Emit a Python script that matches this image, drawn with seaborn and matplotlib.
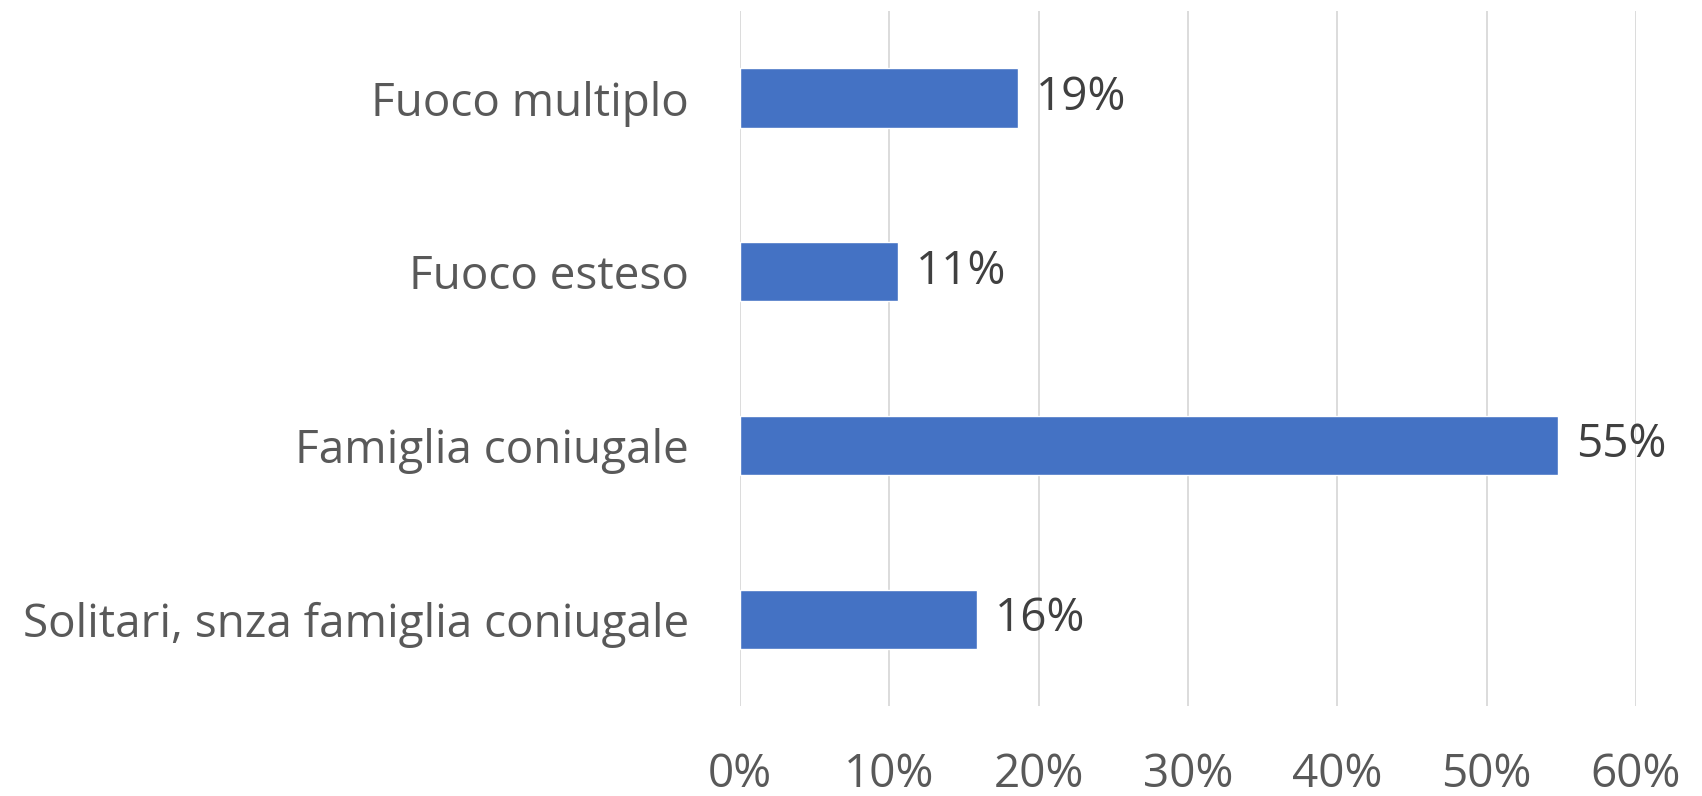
import matplotlib
matplotlib.use("Agg")
import matplotlib.pyplot as plt
import seaborn as sns
import pandas as pd
from matplotlib.ticker import PercentFormatter

categories = ["Fuoco multiplo", "Fuoco esteso", "Famiglia coniugale",
              "Solitari, snza famiglia coniugale"]
shares = [18.6, 10.6, 54.8, 15.9]
labels = ["19%", "11%", "55%", "16%"]

df = pd.DataFrame({"categoria": categories, "quota": shares})

sns.set_style("white")
plt.rcParams["font.family"] = ["Open Sans", "DejaVu Sans"]

fig = plt.figure(figsize=(17.02, 7.96), dpi=100)
ax = fig.add_axes([0.4348, 0.113, 0.5264, 0.873])

sns.barplot(data=df, x="quota", y="categoria", color="#4472C4",
            width=0.34, saturation=1, ax=ax)

# etichette dei valori accanto alle barre
for patch, lab in zip(ax.patches, labels):
    ax.text(patch.get_width() + 1.2, patch.get_y() + patch.get_height() / 2,
            lab, va="center", ha="left", fontsize=33, color="#404040")

ax.set_xlim(0, 60)
ax.set_xticks(range(0, 61, 10))
ax.xaxis.set_major_formatter(PercentFormatter(decimals=0))
ax.grid(axis="x", color="#D9D9D9", linewidth=1.3)
ax.set_axisbelow(True)
for s in ax.spines.values():
    s.set_visible(False)
ax.tick_params(axis="x", length=0, labelsize=33, labelcolor="#595959", pad=33)
ax.tick_params(axis="y", length=0, labelsize=33, labelcolor="#595959", pad=37)
ax.set_xlabel("")
ax.set_ylabel("")

fig.savefig("out.png", dpi=100)
